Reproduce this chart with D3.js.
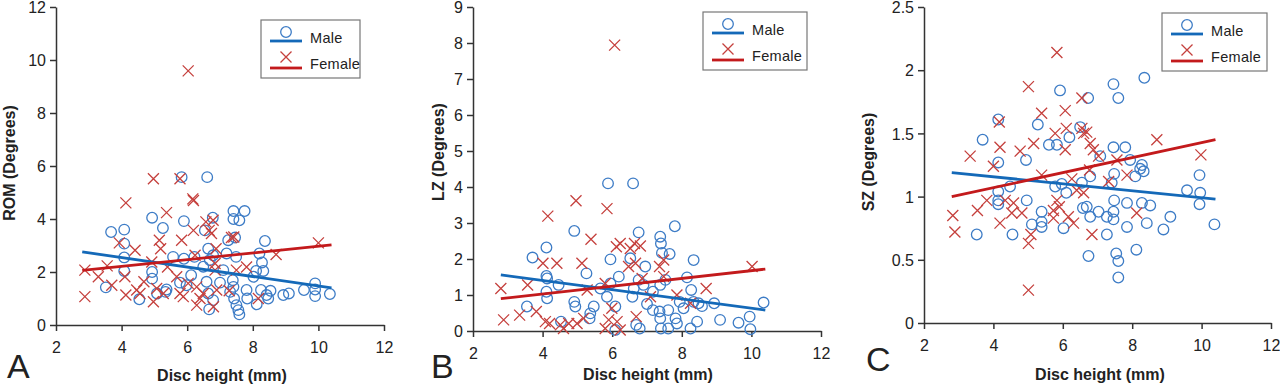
<!DOCTYPE html>
<html>
<head>
<meta charset="utf-8">
<script src="https://cdn.jsdelivr.net/npm/d3@7"></script>
<style>
  html, body { margin: 0; padding: 0; background: #fff; }
  svg { display: block; font-family: "Liberation Sans", Arial, sans-serif; }
  .tick text { font-size: 16px; fill: #222; }
  .axis path, .axis line { stroke: #333; stroke-width: 1.5px; }
  .title { font-size: 16px; font-weight: bold; fill: #222; }
  .letter { font-size: 34px; fill: #222; }
  .legend text { font-size: 14.5px; fill: #222; letter-spacing: 0.3px; }
</style>
</head>
<body>
<div id="chart"></div>
<script>
// Three scatter panels: ROM, LZ, SZ vs disc height, male (circles) / female (crosses)
// values, [disc height mm, degrees]

const romMale = [
  [3.52,1.42],[3.68,3.51],[4.08,3.60],[4.08,3.07],[4.08,2.55],[4.08,2.04],[4.54,0.97],[4.93,4.05],
  [4.93,2.0],[4.93,1.75],[5.08,1.19],[5.26,3.66],[5.34,1.25],[5.37,1.34],[5.57,2.57],[5.83,5.58],
  [5.90,3.92],[5.90,2.5],[5.78,1.6],[6.12,1.88],[6.22,2.57],[5.98,1.5],[6.61,5.58],[6.54,3.57],
  [6.78,4.05],[6.64,2.88],[6.69,2.45],[6.79,2.63],[6.49,2.2],[6.59,1.63],[6.64,1.19],[6.67,0.59],
  [6.79,0.94],[7.0,1.6],[7.10,2.07],[7.2,2.7],[7.25,3.2],[7.41,4.3],[7.41,4.0],[7.59,3.95],
  [7.75,4.3],[7.46,3.3],[7.49,2.57],[7.39,1.69],[7.41,1.44],[7.31,1.25],[7.43,1.0],[7.5,0.75],
  [7.56,0.56],[7.59,0.4],[7.81,1.32],[7.83,1.0],[8.02,1.82],[8.1,2.04],[8.12,0.78],[8.2,2.7],
  [8.28,2.36],[8.37,3.17],[8.32,2.04],[8.25,1.32],[8.42,1.13],[8.54,1.29],[8.47,1.0],[8.93,1.13],
  [9.1,1.19],[9.56,1.32],[9.9,1.57],[9.9,1.34],[9.9,1.09],[10.35,1.17]
];
const romFemale = [
  [2.88,2.07],[2.88,1.07],[3.29,1.82],[3.56,2.23],[3.70,1.5],[3.93,3.1],[4.13,4.61],[4.1,1.82],
  [4.13,1.13],[4.41,2.82],[4.46,1.32],[4.56,1.19],[4.68,1.63],[4.97,5.52],[4.92,2.38],[4.97,0.88],
  [5.07,1.38],[5.15,3.2],[5.19,2.88],[5.37,4.24],[5.4,2.19],[5.27,1.19],[5.78,5.52],[5.83,3.2],
  [5.68,1.82],[5.78,1.19],[5.88,1.07],[6.03,1.57],[6.03,9.59],[6.17,4.76],[6.19,4.7],[6.19,3.57],
  [6.24,2.63],[6.29,1.44],[6.29,0.75],[6.39,1.0],[6.49,1.19],[6.57,3.89],[6.67,3.57],[6.74,3.45],
  [6.79,3.95],[6.88,2.88],[6.85,2.32],[6.85,2.07],[6.8,0.69],[6.9,1.32],[7.28,1.29],[7.35,3.3],
  [7.42,3.32],[7.5,2.07],[7.81,2.19],[8.17,1.0],[8.71,2.66],[10.0,3.1]
];
const lzMale = [
  [3.55,0.68],[3.71,2.04],[4.11,2.32],[4.11,1.53],[4.13,1.46],[4.11,1.09],[4.13,0.91],[4.46,1.28],
  [4.53,0.26],[4.91,2.78],[4.91,0.81],[4.94,0.68],[5.26,1.6],[5.37,0.49],[5.35,0.35],[5.47,0.68],
  [5.66,1.18],[5.88,4.1],[5.95,1.99],[5.95,1.32],[5.85,0.95],[6.09,0.68],[6.19,1.51],[6.09,0.03],
  [6.6,4.1],[6.52,2.02],[6.62,1.18],[6.58,0.95],[6.76,2.74],[6.76,1.42],[6.69,0.17],[6.79,0.07],
  [6.95,1.79],[6.9,1.28],[7.0,0.75],[7.17,1.09],[7.17,0.58],[7.38,2.62],[7.4,2.43],[7.43,2.17],
  [7.53,1.42],[7.38,1.28],[7.36,0.54],[7.38,0.35],[7.4,0.07],[7.65,2.14],[7.61,0.58],[7.61,0.07],
  [7.8,2.91],[7.82,0.35],[7.86,0.21],[7.94,0.81],[8.05,0.63],[8.15,1.49],[8.27,1.14],[8.34,0.81],
  [8.34,1.97],[8.44,0.26],[8.25,0.07],[8.48,0.77],[8.58,0.69],[8.93,0.77],[9.1,0.31],[9.63,0.23],
  [9.95,0.4],[9.97,0.05],[10.35,0.79]
];
const lzFemale = [
  [2.8,1.18],[2.88,0.31],[3.34,0.44],[3.57,1.28],[3.82,0.54],[4.01,1.88],[4.15,3.19],[4.08,0.26],
  [4.2,0.21],[4.41,1.88],[4.51,0.17],[4.6,0.07],[4.75,0.21],[4.96,3.62],[4.99,0.21],[5.13,1.88],
  [5.18,0.35],[5.39,2.55],[5.28,1.14],[5.85,3.40],[5.8,1.32],[5.8,0.07],[5.9,0.31],[5.99,0.63],
  [6.07,7.94],[6.12,2.34],[6.23,2.43],[6.14,0.26],[6.23,0.03],[6.47,1.79],[6.52,2.29],[6.64,2.43],
  [6.67,1.88],[6.69,0.4],[6.81,2.36],[6.86,1.46],[7.1,0.95],[7.36,1.79],[7.48,1.97],[7.48,1.51],
  [7.86,1.0],[8.25,0.77],[8.7,1.18],[10.02,1.79]
];
const szMale = [
  [3.52,0.70],[3.69,1.45],[4.14,1.61],[4.14,1.27],[4.14,1.04],[4.14,0.97],[4.14,0.94],[4.48,1.08],
  [4.55,0.70],[4.94,1.29],[4.96,0.97],[5.28,1.57],[5.11,0.78],[5.39,0.88],[5.39,0.80],[5.39,0.76],
  [5.6,1.41],[5.83,1.41],[5.92,1.84],[5.78,1.08],[5.97,1.10],[6.02,0.75],[6.19,1.47],[6.1,1.03],
  [6.5,1.55],[6.55,1.11],[6.58,0.91],[6.73,1.78],[6.74,0.53],[6.79,0.84],[6.79,1.16],[6.69,0.92],
  [7.03,0.88],[7.08,1.32],[7.27,0.70],[7.27,0.84],[7.41,1.11],[7.46,1.89],[7.46,1.39],[7.48,1.18],
  [7.48,0.97],[7.46,0.88],[7.46,0.82],[7.54,0.55],[7.6,1.78],[7.6,0.49],[7.6,0.36],[7.8,1.39],
  [7.94,1.29],[7.85,0.95],[7.85,0.76],[8.12,0.58],[8.09,1.16],[8.23,1.22],[8.28,1.25],[8.33,1.2],
  [8.28,0.95],[8.42,0.79],[8.52,0.93],[8.35,1.94],[8.9,0.74],[9.1,0.84],[9.58,1.05],[9.94,1.17],
  [9.96,1.03],[9.94,0.94],[10.37,0.78]
];
const szFemale = [
  [2.83,0.85],[2.89,0.72],[3.33,1.32],[3.54,0.89],[4.0,1.24],[3.81,0.97],[4.17,1.59],[4.19,1.39],
  [4.19,0.79],[4.34,0.97],[4.53,0.87],[4.58,0.95],[4.77,1.36],[4.82,0.87],[5.01,1.87],[5.01,0.63],
  [5.01,0.26],[5.16,1.42],[5.08,0.70],[5.39,1.66],[5.39,1.17],[5.78,1.5],[5.83,2.14],[5.73,0.89],
  [5.83,0.97],[5.9,0.92],[5.73,0.83],[6.07,1.68],[6.1,1.54],[6.07,1.37],[6.16,0.84],[6.26,1.14],
  [6.31,0.79],[6.4,1.05],[6.55,1.78],[6.55,1.54],[6.6,1.5],[6.69,1.51],[6.79,1.42],[6.88,1.37],
  [6.77,1.21],[6.6,1.03],[6.84,0.70],[7.03,1.32],[7.32,1.12],[7.56,1.29],[7.85,1.17],[8.13,0.87],
  [8.71,1.45],[9.98,1.33]
];

// fitted trend lines, [[x0,y0],[x1,y1]]
const romMaleTrend = [[2.8,2.76],[10.4,1.40]];
const romFemaleTrend = [[2.8,2.06],[10.4,3.02]];
const lzMaleTrend = [[2.8,1.56],[10.4,0.58]];
const lzFemaleTrend = [[2.8,0.90],[10.4,1.72]];
const szMaleTrend = [[2.8,1.19],[10.4,0.98]];
const szFemaleTrend = [[2.8,1.00],[10.4,1.45]];

const xTicks = [2, 4, 6, 8, 10, 12];
const romTicks = [0, 2, 4, 6, 8, 10, 12];
const lzTicks = [0, 1, 2, 3, 4, 5, 6, 7, 8, 9];
const szTicks = [0, 0.5, 1, 1.5, 2, 2.5];
const seriesNames = ["Male", "Female"];

const W = 1280, H = 384;
const blue = "#3d7cc6", blueLine = "#1469b8";
const red = "#c5403d", redLine = "#c31a1c";

const svg = d3.select("#chart").append("svg")
  .attr("width", W).attr("height", H);

const panels = [
  { letter: "A", ylab: "ROM (Degrees)", male: romMale, female: romFemale,
    mt: romMaleTrend, ft: romFemaleTrend, yTicks: romTicks,
    x0: 56, x1: 384, yTop: 7, yBot: 325, ylabX: 9, ylabY: 163,
    letterX: 7, letterY: 378, titleX: 222, titleY: 381, legX: 261, legY: 20, legW: 99 },
  { letter: "B", ylab: "LZ (Degrees)", male: lzMale, female: lzFemale,
    mt: lzMaleTrend, ft: lzFemaleTrend, yTicks: lzTicks,
    x0: 473, x1: 821, yTop: 7, yBot: 331, ylabX: 438, ylabY: 152,
    letterX: 431, letterY: 378, titleX: 648, titleY: 380, legX: 703, legY: 12, legW: 104 },
  { letter: "C", ylab: "SZ (Degrees)", male: szMale, female: szFemale,
    mt: szMaleTrend, ft: szFemaleTrend, yTicks: szTicks,
    x0: 924, x1: 1271, yTop: 7, yBot: 323, ylabX: 868, ylabY: 162,
    letterX: 866, letterY: 371, titleX: 1100, titleY: 380, legX: 1162, legY: 13, legW: 105 }
];

const crossPath = s => `M${-s},${-s}L${s},${s}M${-s},${s}L${s},${-s}`;

panels.forEach(p => {
  const x = d3.scaleLinear().domain([2, 12]).range([p.x0, p.x1]);
  const ymax = p.yTicks[p.yTicks.length - 1];
  const y = d3.scaleLinear().domain([0, ymax]).range([p.yBot, p.yTop]);
  const g = svg.append("g");

  // axes
  g.append("g").attr("class", "axis")
    .attr("transform", `translate(0,${p.yBot})`)
    .call(d3.axisBottom(x).tickValues(xTicks).tickSize(6).tickPadding(8).tickSizeOuter(0))
    .call(a => a.selectAll("text").attr("dy", "0.9em"));
  g.append("g").attr("class", "axis")
    .attr("transform", `translate(${p.x0},0)`)
    .call(d3.axisLeft(y).tickValues(p.yTicks).tickSize(6).tickPadding(4).tickSizeOuter(0)
      .tickFormat(d3.format("~g")))
    .call(a => a.selectAll(".tick text").attr("dy", "0.36em"));

  // points
  g.append("g").selectAll("circle").data(p.male).join("circle")
    .attr("cx", d => x(d[0])).attr("cy", d => y(d[1])).attr("r", 5.3)
    .attr("fill", "none").attr("stroke", blue).attr("stroke-width", 1.3);
  g.append("g").selectAll("path").data(p.female).join("path")
    .attr("transform", d => `translate(${x(d[0])},${y(d[1])})`)
    .attr("d", crossPath(5.5))
    .attr("fill", "none").attr("stroke", red).attr("stroke-width", 1.3);

  // trend lines
  const line = d3.line().x(d => x(d[0])).y(d => y(d[1]));
  g.append("path").datum(p.mt).attr("d", line)
    .attr("stroke", blueLine).attr("stroke-width", 2.8).attr("fill", "none");
  g.append("path").datum(p.ft).attr("d", line)
    .attr("stroke", redLine).attr("stroke-width", 2.8).attr("fill", "none");

  // titles
  g.append("text").attr("class", "title")
    .attr("x", p.titleX).attr("y", p.titleY).attr("text-anchor", "middle")
    .text("Disc height (mm)");
  g.append("text").attr("class", "title")
    .attr("transform", `translate(${p.ylabX},${p.ylabY}) rotate(-90)`)
    .attr("text-anchor", "middle").attr("dominant-baseline", "central")
    .text(p.ylab);
  g.append("text").attr("class", "letter")
    .attr("x", p.letterX).attr("y", p.letterY).text(p.letter);

  // legend
  const leg = g.append("g").attr("class", "legend")
    .attr("transform", `translate(${p.legX},${p.legY})`);
  leg.append("rect").attr("width", p.legW).attr("height", 58)
    .attr("fill", "#fff").attr("stroke", "#777").attr("stroke-width", 1.2);
  const rows = leg.selectAll("g.row").data(seriesNames).join("g")
    .attr("class", "row")
    .attr("transform", (d, i) => `translate(0,${i * 26})`);
  rows.append("line").attr("x1", 9).attr("x2", 41)
    .attr("y1", (d, i) => i ? 22 : 21).attr("y2", (d, i) => i ? 22 : 21)
    .attr("stroke", (d, i) => i ? redLine : blueLine).attr("stroke-width", 2.8);
  rows.filter((d, i) => i === 0).append("circle")
    .attr("cx", 25).attr("cy", 12).attr("r", 5.3)
    .attr("fill", "none").attr("stroke", blue).attr("stroke-width", 1.3);
  rows.filter((d, i) => i === 1).append("path")
    .attr("transform", "translate(25,11)").attr("d", crossPath(5.5))
    .attr("fill", "none").attr("stroke", red).attr("stroke-width", 1.3);
  rows.append("text").attr("x", 49).attr("y", 18)
    .attr("dominant-baseline", "central").text(d => d);
});
</script>
</body>
</html>
